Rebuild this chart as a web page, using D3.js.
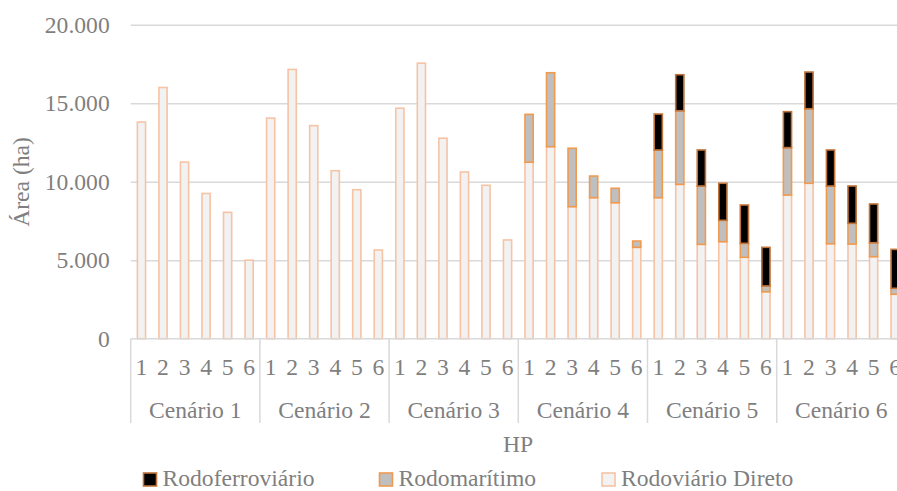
<!DOCTYPE html>
<html><head><meta charset="utf-8">
<script src="https://cdn.jsdelivr.net/npm/d3@7"></script>
<style>
html,body{margin:0;padding:0;background:#fff;overflow:hidden}
text{font-family:"Liberation Serif","Times New Roman",serif;fill:#7f7f7f}
</style></head><body>
<svg id="c" width="897" height="491"></svg>
<script>
const cenarios = ["Cenário 1","Cenário 2","Cenário 3","Cenário 4","Cenário 5","Cenário 6"];
const hps = ["1","2","3","4","5","6"];
const rodoviarioDireto = [
  13800,16000,11250,9250,8050,5000,
  14050,17150,13570,10700,9490,5650,
  14680,17550,12770,10620,9770,6290,
  11240,12230,8410,8980,8660,5820,
  8980,9830,6010,6180,5185,2990,
  9150,9900,6050,6030,5225,2830];
const rodomaritimo = [
  0,0,0,0,0,0,
  0,0,0,0,0,0,
  0,0,0,0,0,0,
  3050,4710,3720,1380,920,400,
  3040,4690,3715,1360,890,370,
  3020,4750,3675,1320,890,380];
const rodoferroviario = [
  0,0,0,0,0,0,
  0,0,0,0,0,0,
  0,0,0,0,0,0,
  0,0,0,0,0,0,
  2290,2295,2295,2360,2440,2460,
  2290,2335,2295,2375,2465,2480];
const yTicks = [0,5000,10000,15000,20000];
const seriesNames = ["Rodoviário Direto","Rodomarítimo","Rodoferroviário"];

const FS = 23.6;
const svg = d3.select("#c");
const mLeft = 130.7, groupW = 129.2, mTop = 24.7, mBottom = 338.7;
const mRight = mLeft + groupW*cenarios.length;

const rows = [];
cenarios.forEach((c,ci)=>hps.forEach((h,hi)=>{
  const i = ci*6+hi;
  rows.push({key:c+"|"+h, cen:c, hp:h, rd:rodoviarioDireto[i], rm:rodomaritimo[i], rf:rodoferroviario[i]});
}));

const x = d3.scaleBand().domain(rows.map(d=>d.key)).range([mLeft,mRight]).paddingInner(0).paddingOuter(0);
const xg = d3.scaleBand().domain(cenarios).range([mLeft,mRight]);
const y = d3.scaleLinear().domain([0,20000]).range([mBottom,mTop]);

const loc = d3.formatLocale({decimal:",",thousands:".",grouping:[3],currency:["",""]});
const fmt = loc.format(",");

// gridlines
const grid = svg.append("g").attr("transform",`translate(${mLeft},0)`)
  .call(d3.axisLeft(y).tickValues(yTicks.filter(v=>v>0)).tickSize(-(mRight-mLeft)).tickFormat(""));
grid.select(".domain").remove();
grid.selectAll("line").attr("stroke","#d9d9d9").attr("stroke-width",1.5);

// y axis labels
const ya = svg.append("g").attr("transform",`translate(${mLeft},0)`)
  .call(d3.axisLeft(y).tickValues(yTicks).tickSize(0).tickPadding(21).tickFormat(fmt));
ya.select(".domain").remove();
ya.selectAll("text").attr("font-size",FS).attr("fill","#7f7f7f")
  .style("font-family",'"Liberation Serif",serif');

// stacked bars
const stack = d3.stack().keys(["rd","rm","rf"])(rows);
const fills = {rd:"#f2f2f2", rm:"#bfbfbf", rf:"#000000"};
const strokes = {rd:"#f6c3a5", rm:"#f09a50", rf:"#c0733a"};
const bw = x.bandwidth()*0.38;
stack.forEach(s=>{
  svg.append("g").selectAll("rect").data(s.filter(d=>d[1]-d[0]>0)).join("rect")
    .attr("x",d=>x(d.data.key)+(x.bandwidth()-bw)/2)
    .attr("width",bw)
    .attr("y",d=>y(d[1]))
    .attr("height",d=>y(d[0])-y(d[1]))
    .attr("fill",fills[s.key]).attr("stroke",strokes[s.key]).attr("stroke-width",1.6);
});

// x axis line
svg.append("line").attr("x1",mLeft).attr("x2",mRight).attr("y1",mBottom).attr("y2",mBottom)
  .attr("stroke","#d9d9d9").attr("stroke-width",1.5);

// hp labels
const xa = svg.append("g").attr("transform",`translate(0,${mBottom})`)
  .call(d3.axisBottom(x).tickSize(0).tickPadding(0).tickFormat(k=>k.split("|")[1]));
xa.select(".domain").remove();
xa.selectAll("text").attr("y",36.5).attr("dy",0).attr("font-size",FS).attr("fill","#7f7f7f")
  .style("font-family",'"Liberation Serif",serif');

// group separators
const seps = cenarios.map(c=>xg(c)).concat([mRight]);
svg.append("g").selectAll("line").data(seps).join("line")
  .attr("x1",d=>d).attr("x2",d=>d).attr("y1",mBottom).attr("y2",423)
  .attr("stroke","#d9d9d9").attr("stroke-width",1.5);

// cenario labels
svg.append("g").selectAll("text").data(cenarios).join("text")
  .attr("x",d=>xg(d)+xg.bandwidth()/2).attr("y",417.5).attr("text-anchor","middle")
  .attr("font-size",FS).text(d=>d);

// axis titles
svg.append("text").attr("x",518).attr("y",452).attr("text-anchor","middle").attr("font-size",FS).text("HP");
svg.append("text").attr("transform","translate(29,182) rotate(-90)").attr("text-anchor","middle")
  .attr("font-size",FS).text("Área (ha)");

// legend
const legend = [
  {name:"Rodoferroviário", key:"rf", x:143.5},
  {name:"Rodomarítimo", key:"rm", x:379.5},
  {name:"Rodoviário Direto", key:"rd", x:602}
];
const lg = svg.append("g").selectAll("g").data(legend).join("g");
lg.append("rect").attr("x",d=>d.x).attr("y",473).attr("width",13).attr("height",13)
  .attr("fill",d=>fills[d.key]).attr("stroke",d=>strokes[d.key]).attr("stroke-width",1.6);
lg.append("text").attr("x",d=>d.x+19).attr("y",486).attr("font-size",FS).text(d=>d.name);
</script>
</body></html>
